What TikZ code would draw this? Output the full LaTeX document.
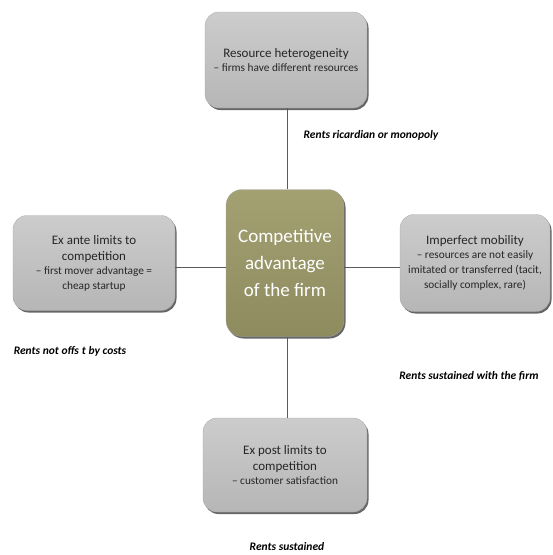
\documentclass[tikz,border=0pt]{standalone}
\usepackage{fontspec}
\setmainfont{Carlito}
\usetikzlibrary{shadows}
\definecolor{boxtop}{RGB}{204,204,204}
\definecolor{boxbot}{RGB}{182,182,182}
\definecolor{olivetop}{RGB}{163,161,114}
\definecolor{olivebot}{RGB}{142,140,95}
\definecolor{linegray}{RGB}{90,90,90}
\tikzset{
  graybox/.style={rounded corners=14pt, top color=boxtop, bottom color=boxbot,
    draw=black!35, line width=0.3pt, align=center, inner sep=3pt,
    drop shadow={shadow xshift=1.5pt, shadow yshift=-2pt, opacity=0.75, fill=black!80},
    font=\fontsize{13}{17}\selectfont, text=black!85},
  centerbox/.style={rounded corners=16pt, top color=olivetop, bottom color=olivebot,
    draw=black!35, line width=0.3pt, align=center, text=white,
    drop shadow={shadow xshift=1.5pt, shadow yshift=-2pt, opacity=0.75, fill=black!80},
    font=\fontsize{19}{27}\selectfont},
  conn/.style={draw=linegray, line width=0.6pt},
  rentlabel/.style={font=\fontsize{11.5}{13}\selectfont\bfseries\itshape, text=black, inner sep=0pt}
}
\newcommand{\sm}{\fontsize{11.3}{14}\selectfont}
\begin{document}
\begin{tikzpicture}[x=1pt,y=1pt]
\useasboundingbox (0,0) rectangle (553,-555);
\node[centerbox, minimum width=118pt, minimum height=147pt] (c) at (285,-263)
  {Competitive\\advantage\\of the firm};
\node[graybox, minimum width=162pt, minimum height=96pt] (t) at (286,-60)
  {Resource heterogeneity\\[-3pt]{\sm -- firms have different resources}};
\node[graybox, minimum width=162pt, minimum height=95pt] (l) at (94,-263)
  {Ex ante limits to\\[-1pt]competition\\[-3pt]{\sm -- first mover advantage =}\\[-2pt]{\sm cheap startup}};
\node[graybox, minimum width=150pt, minimum height=97pt] (r) at (475,-263)
  {Imperfect mobility\\[-3pt]{\sm -- resources are not easily}\\[-2pt]{\sm imitated or transferred (tacit,}\\[-2pt]{\sm socially complex, rare)}};
\node[graybox, minimum width=164pt, minimum height=94pt] (b) at (285,-465)
  {Ex post limits to\\[-1pt]competition\\[-3pt]{\sm -- customer satisfaction}};
\draw[conn] (t.south -| 287,0) -- (c.north -| 287,0);
\draw[conn] (b.north -| 287,0) -- (c.south -| 287,0);
\draw[conn] (l.east |- 0,-267) -- (c.west |- 0,-267);
\draw[conn] (r.west |- 0,-267) -- (c.east |- 0,-267);
\node[rentlabel] (lt) at (371,-135) {Rents ricardian or monopoly};
\node[rentlabel] (ll) at (70,-351) {Rents not offs\hspace{3pt}t by costs};
\node[rentlabel] (lr) at (469,-376) {Rents sustained with the firm};
\node[rentlabel] (lb) at (287,-547) {Rents sustained};
\end{tikzpicture}
\end{document}
